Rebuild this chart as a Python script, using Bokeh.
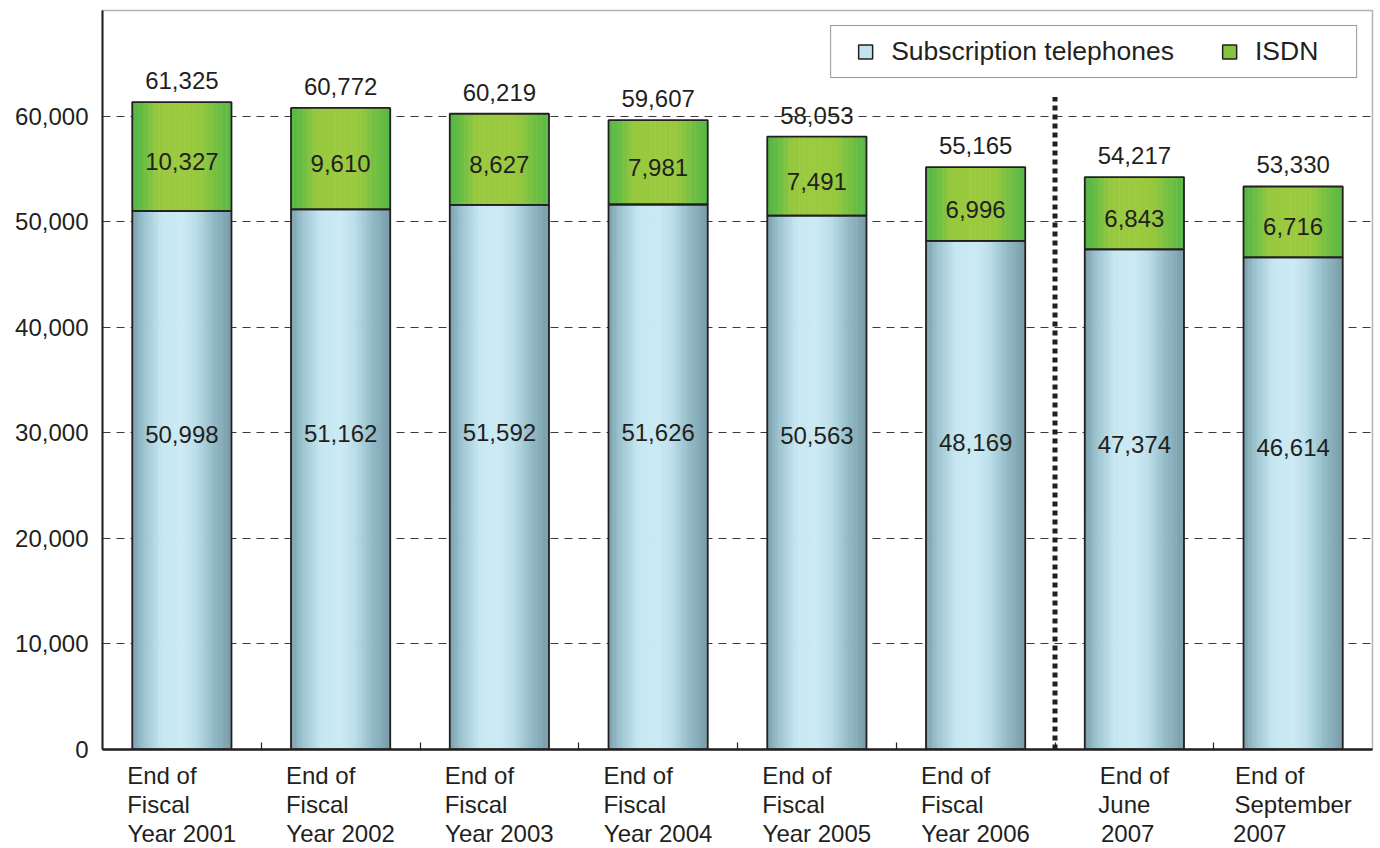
import numpy as np
from bokeh.plotting import figure
from bokeh.models import (ColumnDataSource, FixedTicker, NumeralTickFormatter,
                          Legend, LegendItem, Range1d)
from bokeh.core.properties import value
from bokeh.embed import file_html
from bokeh.resources import INLINE

# ---------------- data ----------------
categories = [
    "End of\nFiscal\nYear 2001",
    "End of\nFiscal\nYear 2002",
    "End of\nFiscal\nYear 2003",
    "End of\nFiscal\nYear 2004",
    "End of\nFiscal\nYear 2005",
    "End of\nFiscal\nYear 2006",
    "End of\nJune\n2007",
    "End of\nSeptember\n2007",
]
subscription = [50998, 51162, 51592, 51626, 50563, 48169, 47374, 46614]
isdn = [10327, 9610, 8627, 7981, 7491, 6996, 6843, 6716]
totals = [61325, 60772, 60219, 59607, 58053, 55165, 54217, 53330]
y_ticks = [0, 10000, 20000, 30000, 40000, 50000, 60000]
n_fiscal_years = 6          # dotted separator after the fiscal-year bars

# ---------------- style ----------------
FONT = "Liberation Sans"
TXT = "#231f20"
BW = 0.625
N_STRIPS = 40
FRAME_W, FRAME_H = 1270, 739
XLAB_PX = 24

blue_stops = [(0.0, (122, 158, 171)), (0.12, (156, 196, 208)), (0.3, (198, 231, 241)),
              (0.5, (204, 234, 243)), (0.65, (186, 222, 233)), (0.82, (146, 186, 198)),
              (1.0, (120, 156, 168))]
green_stops = [(0.0, (84, 181, 70)), (0.1, (100, 188, 68)), (0.25, (150, 200, 62)),
               (0.5, (156, 202, 62)), (0.7, (150, 200, 62)), (0.86, (112, 191, 66)),
               (1.0, (88, 184, 70))]


def grad(stops, t):
    ts = [s[0] for s in stops]
    rgb = [int(round(np.interp(t, ts, [s[1][c] for s in stops]))) for c in range(3)]
    return "#%02x%02x%02x" % tuple(rgb)


# approximate Arial / Liberation Sans advance widths (per em)
_W = {" ": .278, "E": .667, "F": .611, "J": .5, "S": .667, "Y": .6, "a": .556,
      "b": .556, "c": .5, "d": .556, "e": .556, "f": .278, "i": .222, "l": .222,
      "m": .833, "n": .556, "o": .556, "p": .556, "r": .333, "s": .5, "t": .278,
      "u": .556}
NBSP = "\u00a0"


def text_w(s, px):
    return sum(_W.get(ch, .556) for ch in s) * px


def left_aligned(label, px):
    """Pad each line with trailing no-break spaces so the centred lines
    read as a left-aligned block (Bokeh centres multi-line tick labels)."""
    lines = label.split("\n")
    wmax = max(text_w(l, px) for l in lines)
    out = []
    for l in lines:
        n = int(round((wmax - text_w(l, px)) / (_W[" "] * px)))
        out.append(l + NBSP * n)
    return "\n".join(out)


xs = np.arange(len(categories)) + 0.5

# gradient strips built from the data
bx, btop, bcol = [], [], []
gx, gbot, gtop, gcol = [], [], [], []
for i, (s, g) in enumerate(zip(subscription, isdn)):
    for k in range(N_STRIPS):
        t = (k + 0.5) / N_STRIPS
        x = xs[i] - BW / 2 + t * BW
        bx.append(x); btop.append(s); bcol.append(grad(blue_stops, t))
        gx.append(x); gbot.append(s); gtop.append(s + g); gcol.append(grad(green_stops, t))

src_b = ColumnDataSource(dict(x=bx, top=btop, color=bcol))
src_g = ColumnDataSource(dict(x=gx, bottom=gbot, top=gtop, color=gcol))

src = ColumnDataSource(dict(
    x=xs,
    sub=subscription,
    isdn=isdn,
    total=totals,
    stack=[s + g for s, g in zip(subscription, isdn)],
    sub_lbl=[f"{v:,}" for v in subscription],
    isdn_lbl=[f"{v:,}" for v in isdn],
    tot_lbl=[f"{v:,}" for v in totals],
    sub_y=[0.28 * v + 15580 for v in subscription],
    isdn_y=[s + g / 2 for s, g in zip(subscription, isdn)],
))

p = figure(frame_width=FRAME_W, frame_height=FRAME_H,
           x_range=Range1d(0, len(categories)), y_range=Range1d(0, 70000),
           output_backend="svg", toolbar_location=None,
           min_border_left=102, min_border_right=8, min_border_top=10, min_border_bottom=99)

p.background_fill_color = "white"
p.border_fill_color = "white"
p.outline_line_color = "#b4b4b4"
p.outline_line_width = 1.5

# grid
p.xgrid.visible = False
p.ygrid.ticker = FixedTicker(ticks=y_ticks[1:])
p.ygrid.grid_line_color = "#3a3a3a"
p.ygrid.grid_line_width = 1.2
p.ygrid.grid_line_dash = "8 6"

# bars (gradient strips)
sw = BW / N_STRIPS * 1.2
p.vbar(x="x", top="top", bottom=0, width=sw, source=src_b,
       fill_color="color", line_color=None)
p.vbar(x="x", top="top", bottom="bottom", width=sw, source=src_g,
       fill_color="color", line_color=None)
# outlines
p.vbar(x="x", top="stack", bottom="sub", width=BW, source=src,
       fill_color=None, line_color=TXT, line_width=1.8)
p.vbar(x="x", top="sub", bottom=0, width=BW, source=src,
       fill_color=None, line_color=TXT, line_width=1.8)

# separator
p.segment(x0=[n_fiscal_years], y0=[0], x1=[n_fiscal_years], y1=[61800],
          line_color=TXT, line_width=5, line_dash="5 4", line_cap="butt")

# value labels
common = dict(text_font=value(FONT), text_color=TXT, text_align="center", source=src)
p.text(x="x", y="sub_y", text="sub_lbl", text_font_size="24px",
       text_baseline="middle", **common)
p.text(x="x", y="isdn_y", text="isdn_lbl", text_font_size="24px",
       text_baseline="middle", y_offset=5, **common)
p.text(x="x", y="total", text="tot_lbl", text_font_size="24px",
       text_baseline="bottom", y_offset=-13, **common)

# x axis
p.xaxis.ticker = FixedTicker(ticks=list(xs), minor_ticks=list(range(1, len(categories))))
p.xaxis.major_label_overrides = {float(x): left_aligned(c, XLAB_PX)
                                 for x, c in zip(xs, categories)}
p.xaxis.major_tick_in = 0
p.xaxis.major_tick_out = 0
p.xaxis.minor_tick_in = 7
p.xaxis.minor_tick_out = 0
p.xaxis.minor_tick_line_color = TXT
p.xaxis.minor_tick_line_width = 1.2
p.xaxis.axis_line_color = TXT
p.xaxis.axis_line_width = 2.5
p.xaxis.major_label_text_font = FONT
p.xaxis.major_label_text_font_size = f"{XLAB_PX}px"
p.xaxis.major_label_text_color = TXT
p.xaxis.major_label_text_line_height = 1.08
p.xaxis.major_label_standoff = 12

p.yaxis.ticker = FixedTicker(ticks=y_ticks)
p.yaxis.formatter = NumeralTickFormatter(format="0,0")
p.yaxis.major_tick_in = 0
p.yaxis.major_tick_out = 0
p.yaxis.minor_tick_line_color = None
p.yaxis.axis_line_color = TXT
p.yaxis.axis_line_width = 2
p.yaxis.major_label_text_font = FONT
p.yaxis.major_label_text_font_size = "24px"
p.yaxis.major_label_text_color = TXT
p.yaxis.major_label_standoff = 14

# legend (legend-only renderers: one non-drawn row so the swatch renders)
leg_src = ColumnDataSource(dict(x=[xs[0]], y=[np.nan]))
r_lb = p.scatter(x="x", y="y", source=leg_src, marker="square", size=14,
                 fill_color="#c3e3ee", line_color=TXT, line_width=1.5)
r_lg = p.scatter(x="x", y="y", source=leg_src, marker="square", size=14,
                 fill_color="#86c440", line_color=TXT, line_width=1.5)
legend = Legend(items=[LegendItem(label="Subscription telephones", renderers=[r_lb]),
                       LegendItem(label="ISDN", renderers=[r_lg])],
                orientation="horizontal", location="top_right",
                margin=15, padding=8, spacing=29,
                glyph_width=52, glyph_height=35, label_standoff=0,
                label_width=93,
                label_text_font=FONT, label_text_font_size="26.5px",
                label_text_color=TXT, label_text_baseline="middle",
                border_line_color="#333333", border_line_width=1.2,
                background_fill_color="white", background_fill_alpha=1.0)
p.add_layout(legend)

open("out.html", "w").write(file_html(p, INLINE))
